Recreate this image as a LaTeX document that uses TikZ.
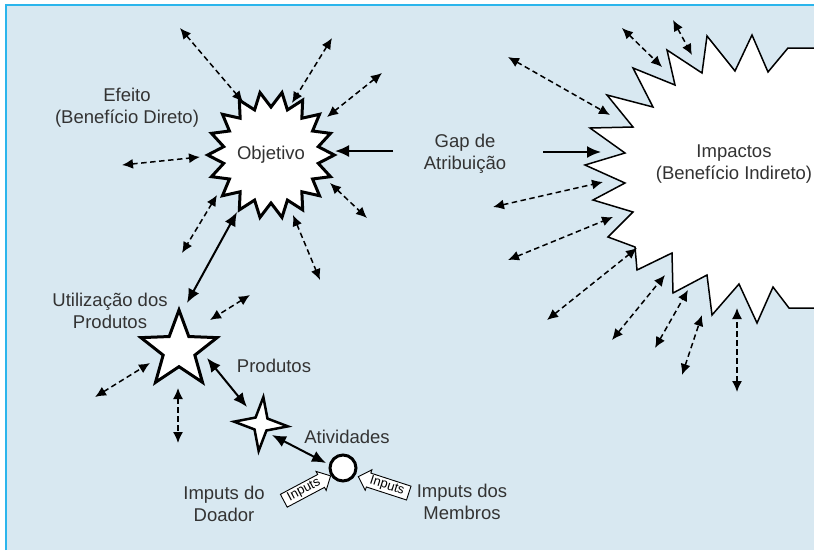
\documentclass[tikz,border=0pt]{standalone}
\usepackage{fontspec}
\setmainfont{Liberation Sans}
\usetikzlibrary{arrows.meta,shapes.geometric,shapes.arrows}
\definecolor{bgblue}{HTML}{D8E8F1}
\definecolor{edgeblue}{HTML}{2BB5EC}
\definecolor{txt}{HTML}{333333}
\begin{document}
\begin{tikzpicture}[x=1pt,y=-1pt,
  lbl/.style={font=\fontsize{18.5}{22}\selectfont, text=txt, align=center, inner sep=0pt},
  dashar/.style={{Latex[length=11pt,width=10pt]}-{Latex[length=11pt,width=10pt]}, dash pattern=on 5.5pt off 3.5pt, line width=1.5pt},
  solidar/.style={-{Latex[length=14pt,width=12pt]}, line width=2pt},
  solidbi/.style={{Latex[length=14pt,width=12pt]}-{Latex[length=14pt,width=12pt]}, line width=2pt},
  inarrow/.style={single arrow, draw, fill=white, line width=0.9pt, font=\fontsize{13}{13}\selectfont, inner sep=1pt, single arrow head extend=3.5pt, minimum height=53pt, minimum width=17pt, text=black}
]
\useasboundingbox (0,0) rectangle (814,550);
% background
\fill[bgblue] (5,4) rectangle (814,550);
\draw[edgeblue, line width=2pt] (6,550) -- (6,5) -- (814,5);

% big starburst (Impacts)
\fill[white] (814,48) -- (788,48) -- (768,72) -- (752,35) -- (735,71) -- (707,36) -- (702,73) -- (667,50) -- (675,85) -- (633,68) -- (653,107) -- (607,95) -- (633,127) -- (590,128) -- (625,153) -- (585,165) -- (625,183) -- (593,200) -- (633,212) -- (608,237) -- (635,247) -- (637,270) -- (672,253) -- (673,293) -- (707,275) -- (712,315) -- (739,284) -- (757,323) -- (773,287) -- (789,308) -- (814,308) -- cycle;
\draw[line width=1.5pt, line join=miter] (814,48) -- (788,48) -- (768,72) -- (752,35) -- (735,71) -- (707,36) -- (702,73) -- (667,50) -- (675,85) -- (633,68) -- (653,107) -- (607,95) -- (633,127) -- (590,128) -- (625,153) -- (585,165) -- (625,183) -- (593,200) -- (633,212) -- (608,237) -- (635,247) -- (637,270) -- (672,253) -- (673,293) -- (707,275) -- (712,315) -- (739,284) -- (757,323) -- (773,287) -- (789,308) -- (814,308);
\node[lbl] (imp) at (734,164) {Impactos\\(Benefício Indireto)};

% Objetivo starburst
\node[star, star points=18, star point ratio=1.32, minimum size=124pt, inner sep=0pt, shape border rotate=10, draw, line width=3pt, fill=white, line join=miter, font=\fontsize{18.5}{22}\selectfont, text=txt] (obj) at (271,155) {Objetivo};

% Utilizacao star
\node[star, star points=5, star point ratio=2.4, minimum size=80pt, inner sep=0pt, draw, line width=3pt, fill=white, line join=miter] (util) at (179,350) {};
% Produtos star
\node[star, star points=4, star point ratio=3.2, minimum size=54pt, inner sep=0pt, shape border rotate=-5, draw, line width=2.5pt, fill=white, line join=miter] (prod) at (261,424) {};
% Atividades circle
\node[circle, draw, line width=3pt, fill=white, minimum size=26pt, inner sep=0pt] (ativ) at (343,468) {};

% labels
\node[lbl] (efeito) at (127,108) {Efeito\\(Benefício Direto)};
\node[lbl] (gap) at (465,154) {Gap de\\Atribuição};
\node[lbl] (utillbl) at (110,311) {Utilização dos\\Produtos};
\node[lbl] (prodlbl) at (274,366) {Produtos};
\node[lbl] (ativlbl) at (347,437) {Atividades};
\node[lbl] (doador) at (224,504) {Imputs do\\Doador};
\node[lbl] (membros) at (462,502) {Imputs dos\\Membros};

% inputs arrows
\node[inarrow, rotate=28] (inL) at (304,490) {Inputs};
\node[inarrow, rotate=-18, shape border rotate=180] (inR) at (387,486) {Inputs};

% solid connectors
\draw[solidar] (393,151) -- (335,151);
\draw[solidar] (543,152) -- (601,152);
\draw[solidbi] (187,303) -- (237,212);
\draw[solidbi] (207,358) -- (247,407);
\draw[solidbi] (272,435) -- (326,463);

% dashed connectors around Objetivo
\draw[dashar] (180,28) -- (243,102);
\draw[dashar] (332,38) -- (292,103);
\draw[dashar] (382,73) -- (327,117);
\draw[dashar] (122,165) -- (200,157);
\draw[dashar] (330,183) -- (367,218);
\draw[dashar] (293,215) -- (320,280);
\draw[dashar] (217,195) -- (182,253);
% dashed connectors around Impactos
\draw[dashar] (508,57) -- (610,115);
\draw[dashar] (622,28) -- (662,67);
\draw[dashar] (673,20) -- (692,55);
\draw[dashar] (493,207) -- (603,182);
\draw[dashar] (508,260) -- (613,217);
\draw[dashar] (547,320) -- (637,248);
\draw[dashar] (612,340) -- (665,275);
\draw[dashar] (655,348) -- (688,290);
\draw[dashar] (682,375) -- (702,315);
\draw[dashar] (737,392) -- (737,308);
% dashed connectors around Utilizacao
\draw[dashar] (250,295) -- (210,320);
\draw[dashar] (95,397) -- (150,363);
\draw[dashar] (178,388) -- (178,443);
\end{tikzpicture}
\end{document}
